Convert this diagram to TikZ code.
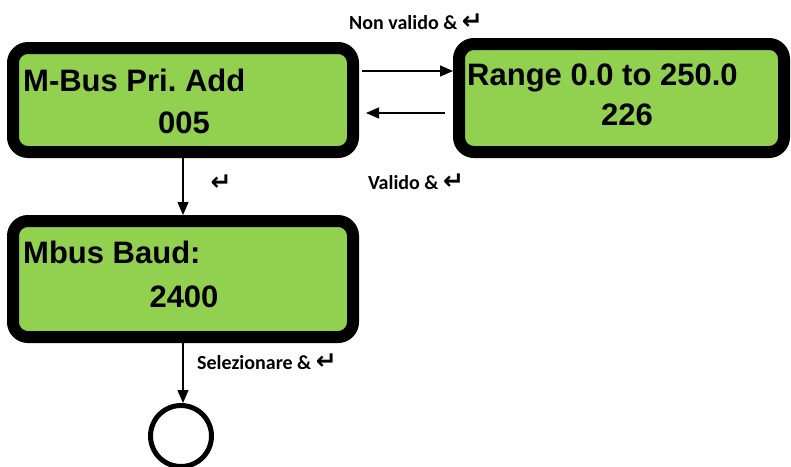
\documentclass[tikz,border=0pt]{standalone}
\usepackage{fontspec}
\setmainfont{Liberation Sans}
\newfontfamily\labelfont{Carlito}
\newfontfamily\symfont{DejaVu Sans}
\usepackage{xcolor}
\usetikzlibrary{arrows.meta, positioning}
\definecolor{lcdgreen}{HTML}{92D050}
\newcommand{\enterkey}{{\symfont\bfseries\fontsize{25}{25}\selectfont ↵}}
\frenchspacing

\begin{document}
\begin{tikzpicture}[
    x=1pt, y=-1pt,
    lcd/.style={draw, fill=lcdgreen, line width=12pt, rounded corners=15pt, inner sep=0pt},
    lcdtext/.style={font=\fontsize{31}{31}\selectfont\bfseries, inner sep=0pt},
    lbl/.style={font=\labelfont\fontsize{20}{20}\selectfont\bfseries, inner sep=0pt},
    arrow/.style={-{Triangle[length=13pt, width=11pt]}, line width=1.2pt},
]
\useasboundingbox (0,0) rectangle (791,466);

% LCD screens
\node[lcd, minimum width=340pt, minimum height=104pt] (addr) at (183,100) {};
\node[lcd, minimum width=325pt, minimum height=108pt] (range) at (621.5,98) {};
\node[lcd, minimum width=340pt, minimum height=116pt] (baud) at (183,279) {};

% Screen texts
\node[lcdtext, anchor=base west] (addrtitle) at (23,91) {M-Bus Pri. Add};
\node[lcdtext, anchor=base] (addrval) at (184,133) {005};
\node[lcdtext, anchor=base west] (rangetitle) at (467,85) {Range 0.0 to 250.0};
\node[lcdtext, anchor=base] (rangeval) at (627,125) {226};
\node[lcdtext, anchor=base west] (baudtitle) at (23,263) {Mbus Baud:};
\node[lcdtext, anchor=base] (baudval) at (184,307) {2400};

% End circle
\node[draw, circle, line width=5pt, minimum size=61pt, inner sep=0pt] (end) at (181,436) {};

% Connectors
\draw[arrow] ([xshift=3pt, yshift=29pt]addr.east) -- ([yshift=29pt]addr.east -| range.west);
\draw[arrow] ([xshift=-8pt, yshift=-13pt]addr.east -| range.west) -- ([xshift=7pt, yshift=-13pt]addr.east);
\draw[arrow] (addr.south) -- (baud.north);
\draw[arrow] (baud.south) -- (baud.south |- end.north);

% Labels
\node[lbl] (nonvalid) at (416,22) {Non valido \& \enterkey};
\node[lbl] (valid) at (416,182) {Valido \& \enterkey};
\node[lbl] (enter) at (221,183) {\enterkey};
\node[lbl] (select) at (267,362) {Selezionare \& \enterkey};

\end{tikzpicture}
\end{document}
